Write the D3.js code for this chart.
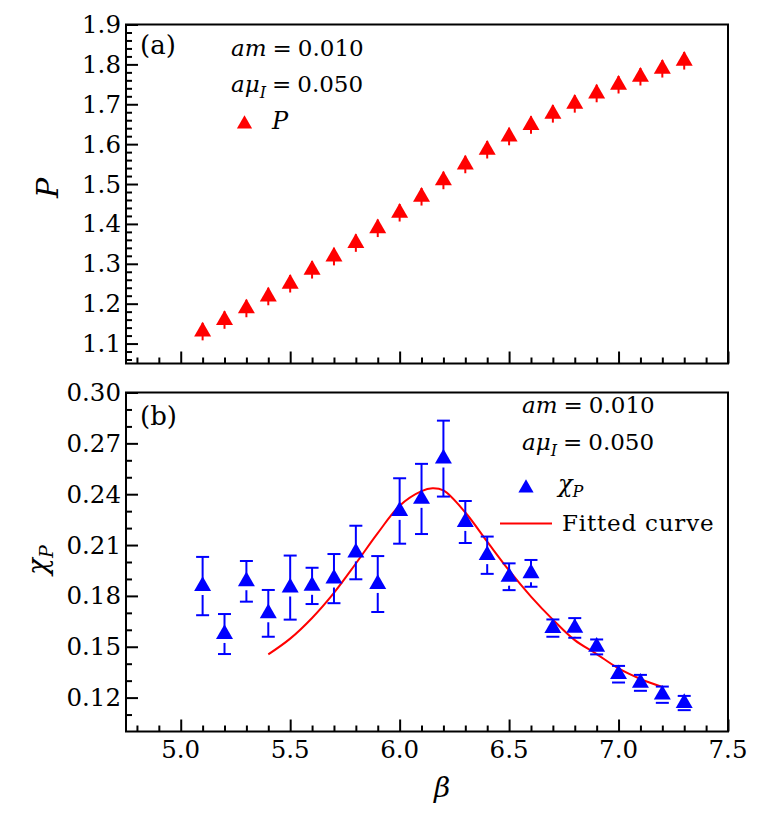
<!DOCTYPE html>
<html>
<head>
<meta charset="utf-8">
<script src="https://cdn.jsdelivr.net/npm/d3@7"></script>
<style>
  html, body { margin: 0; padding: 0; background: #fff; }
  svg { display: block; }
  text { font-family: "DejaVu Serif", serif; fill: #000; }
</style>
</head>
<body>
<svg id="chart" width="759" height="813"></svg>
<script>
// ---------- data ----------
const beta = [5.1, 5.2, 5.3, 5.4, 5.5, 5.6, 5.7, 5.8, 5.9, 6.0, 6.1, 6.2, 6.3, 6.4, 6.5, 6.6, 6.7, 6.8, 6.9, 7.0, 7.1, 7.2, 7.3];
const pValues = [1.130, 1.159, 1.188, 1.218, 1.250, 1.285, 1.318, 1.352, 1.389, 1.428, 1.468, 1.509, 1.549, 1.586, 1.619, 1.648, 1.676, 1.701, 1.727, 1.749, 1.769, 1.789, 1.809];
const pErrors = [0.022, 0.022, 0.022, 0.022, 0.022, 0.022, 0.022, 0.022, 0.022, 0.022, 0.022, 0.022, 0.022, 0.022, 0.022, 0.022, 0.022, 0.022, 0.022, 0.022, 0.022, 0.022, 0.022];
const chiValues = [0.1858, 0.1575, 0.1886, 0.1697, 0.1849, 0.1859, 0.1902, 0.2056, 0.1870, 0.2301, 0.2372, 0.2610, 0.2236, 0.2040, 0.1913, 0.1933, 0.1610, 0.1611, 0.1499, 0.1338, 0.1287, 0.1217, 0.1168];
const chiErrors = [0.0172, 0.0118, 0.0120, 0.0138, 0.0189, 0.0107, 0.0145, 0.0158, 0.0165, 0.0193, 0.0207, 0.0224, 0.0124, 0.0110, 0.0079, 0.0079, 0.0051, 0.0058, 0.0044, 0.0049, 0.0047, 0.0048, 0.0042];
const fitBeta = [5.40, 5.50, 5.60, 5.70, 5.80, 5.90, 6.00, 6.10, 6.15, 6.20, 6.30, 6.40, 6.50, 6.60, 6.70, 6.80, 6.90, 7.00, 7.10, 7.20];
const fitChi  = [0.1455, 0.1548, 0.1670, 0.1818, 0.1991, 0.2170, 0.2332, 0.2418, 0.2435, 0.2422, 0.2292, 0.2120, 0.1950, 0.1796, 0.1660, 0.1539, 0.1457, 0.1372, 0.1310, 0.1263];
const xMajorTicks = [5.0, 5.5, 6.0, 6.5, 7.0, 7.5];
const xTickLabels = ["5.0", "5.5", "6.0", "6.5", "7.0", "7.5"];
const pMajorTicks = [1.1, 1.2, 1.3, 1.4, 1.5, 1.6, 1.7, 1.8, 1.9];
const pTickLabels = ["1.1", "1.2", "1.3", "1.4", "1.5", "1.6", "1.7", "1.8", "1.9"];
const chiMajorTicks = [0.12, 0.15, 0.18, 0.21, 0.24, 0.27, 0.30];
const chiTickLabels = ["0.12", "0.15", "0.18", "0.21", "0.24", "0.27", "0.30"];

// ---------- layout ----------
const svg = d3.select("#chart");
const L = 126, R = 728;
const topA = 24.5, botA = 363.5;
const topB = 392.5, botB = 731.5;
const RED = "#ff0000", BLUE = "#0000ff";
const MAJ = 12, MIN = 6;

const x = d3.scaleLinear().domain([4.75, 7.5]).range([L, R]);
const yA = d3.scaleLinear().domain([1.05, 1.9]).range([botA, topA]);
const yB = d3.scaleLinear().domain([0.10, 0.30]).range([botB, topB]);

function range(a, b, s) { const out = []; for (let v = a; v <= b + 1e-9; v += s) out.push(+v.toFixed(4)); return out; }
const xMinor = range(4.8, 7.4, 0.1).filter(v => !xMajorTicks.some(m => Math.abs(m - v) < 1e-6));
const pMinor = range(1.06, 1.88, 0.02).filter(v => !pMajorTicks.some(m => Math.abs(m - v) < 1e-6));
const chiMinor = range(0.11, 0.29, 0.01).filter(v => !chiMajorTicks.some(m => Math.abs(m - v) < 1e-6));

function drawFrame(y, yTop, yBot, yMajor, yMinor, yLabels, showXLabels) {
  const g = svg.append("g");
  const xAxMaj = d3.axisTop(x).tickValues(xMajorTicks).tickSize(MAJ).tickFormat("");
  const xAxMin = d3.axisTop(x).tickValues(xMinor).tickSize(MIN).tickFormat("");
  [xAxMaj, xAxMin].forEach(ax => {
    const a = g.append("g").attr("transform", `translate(0,${yBot})`).call(ax);
    a.select(".domain").remove();
    a.selectAll("line").attr("stroke", "#000").attr("stroke-width", 2);
  });
  const yAxMaj = d3.axisRight(y).tickValues(yMajor).tickSize(MAJ).tickFormat("");
  const yAxMin = d3.axisRight(y).tickValues(yMinor).tickSize(MIN).tickFormat("");
  [yAxMaj, yAxMin].forEach(ax => {
    const a = g.append("g").attr("transform", `translate(${L},0)`).call(ax);
    a.select(".domain").remove();
    a.selectAll("line").attr("stroke", "#000").attr("stroke-width", 2);
  });
  g.selectAll(".ylab").data(yMajor).enter().append("text")
    .attr("x", L - 5).attr("y", d => y(d) + 8.5)
    .attr("text-anchor", "end").attr("font-size", 24.5)
    .text((d, i) => yLabels[i]);
  if (showXLabels) {
    g.selectAll(".xlab").data(xMajorTicks).enter().append("text")
      .attr("x", d => x(d)).attr("y", yBot + 26)
      .attr("text-anchor", "middle").attr("font-size", 24.5)
      .text((d, i) => xTickLabels[i]);
  }
  g.append("rect").attr("x", L).attr("y", yTop).attr("width", R - L).attr("height", yBot - yTop)
    .attr("fill", "none").attr("stroke", "#000").attr("stroke-width", 2);
}

drawFrame(yA, topA, botA, pMajorTicks, pMinor, pTickLabels, false);
drawFrame(yB, topB, botB, chiMajorTicks, chiMinor, chiTickLabels, true);

const TRI = 125;
const triPath = d3.symbol().type(d3.symbolTriangle).size(TRI)();
const triSmall = d3.symbol().type(d3.symbolTriangle).size(100)();
const triSide = Math.sqrt(TRI * 4 / Math.sqrt(3));
const triH = triSide * Math.sqrt(3) / 2;

// ---------- panel (a) ----------
const gA = svg.append("g");
gA.selectAll(".eb").data(beta).enter().append("line")
  .attr("x1", d => x(d)).attr("x2", d => x(d))
  .attr("y1", (d, i) => yA(pValues[i] + pErrors[i]))
  .attr("y2", (d, i) => yA(pValues[i] - pErrors[i]))
  .attr("stroke", RED).attr("stroke-width", 2);
gA.selectAll(".pt").data(beta).enter().append("path")
  .attr("d", triPath)
  .attr("transform", (d, i) => `translate(${x(d)},${yA(pValues[i])})`)
  .attr("fill", RED);

// ---------- panel (b) ----------
const gB = svg.append("g");
const capW = 13;
const lineGen = d3.line().x(d => x(d[0])).y(d => yB(d[1])).curve(d3.curveCatmullRom.alpha(0.5));
gB.append("path").datum(fitBeta.map((b, i) => [b, fitChi[i]]))
  .attr("d", lineGen).attr("fill", "none").attr("stroke", RED).attr("stroke-width", 2);

beta.forEach((b, i) => {
  const cx = x(b), cy = yB(chiValues[i]);
  const yt = yB(chiValues[i] + chiErrors[i]);
  const yb = yB(chiValues[i] - chiErrors[i]);
  const baseGap = cy + triH / 3 + 4;
  gB.append("line").attr("x1", cx).attr("x2", cx).attr("y1", yt).attr("y2", cy)
    .attr("stroke", BLUE).attr("stroke-width", 2);
  if (yb > baseGap) {
    gB.append("line").attr("x1", cx).attr("x2", cx).attr("y1", baseGap).attr("y2", yb)
      .attr("stroke", BLUE).attr("stroke-width", 2);
  }
  gB.append("line").attr("x1", cx - capW / 2).attr("x2", cx + capW / 2).attr("y1", yt).attr("y2", yt)
    .attr("stroke", BLUE).attr("stroke-width", 2);
  gB.append("line").attr("x1", cx - capW / 2).attr("x2", cx + capW / 2).attr("y1", yb).attr("y2", yb)
    .attr("stroke", BLUE).attr("stroke-width", 2);
  gB.append("path").attr("d", triPath).attr("transform", `translate(${cx},${cy})`).attr("fill", BLUE);
});

// ---------- annotations ----------
function params(g, x0, yb1, yb2) {
  const t1 = g.append("text").attr("x", x0).attr("y", yb1).attr("font-size", 23);
  t1.append("tspan").attr("font-style", "italic").text("am");
  t1.append("tspan").attr("dx", 6).text("=");
  t1.append("tspan").attr("dx", 6).text("0.010");
  const t2 = g.append("text").attr("x", x0).attr("y", yb2).attr("font-size", 23);
  t2.append("tspan").attr("font-style", "italic").text("aμ");
  t2.append("tspan").attr("font-style", "italic").attr("font-size", 16).attr("dy", 6).text("I");
  t2.append("tspan").attr("dx", 6).attr("dy", -6).text("=");
  t2.append("tspan").attr("dx", 6).text("0.050");
}
const ann = svg.append("g");
ann.append("text").attr("x", 140).attr("y", 54).attr("font-size", 26).text("(a)");
ann.append("text").attr("x", 140).attr("y", 424.5).attr("font-size", 26).text("(b)");
params(ann, 231, 55.5, 91.5);
params(ann, 522, 413, 450);

// legend (a)
ann.append("path").attr("d", triSmall).attr("transform", "translate(244.5,124)").attr("fill", RED);
ann.append("text").attr("x", 272).attr("y", 128.5).attr("font-size", 24).attr("font-style", "italic").text("P");

// legend (b)
ann.append("path").attr("d", triSmall).attr("transform", "translate(526,488)").attr("fill", BLUE);
const chiLeg = ann.append("text").attr("x", 558).attr("y", 492).attr("font-size", 24);
chiLeg.append("tspan").attr("font-style", "italic").text("χ");
chiLeg.append("tspan").attr("font-style", "italic").attr("font-size", 16).attr("dy", 5).text("P");
ann.append("line").attr("x1", 500).attr("x2", 552).attr("y1", 523.5).attr("y2", 523.5)
  .attr("stroke", RED).attr("stroke-width", 2);
ann.append("text").attr("x", 562).attr("y", 530.5).attr("font-size", 23).attr("letter-spacing", 0.8).text("Fitted curve");

// axis titles
ann.append("text").attr("transform", "translate(58,188) rotate(-90)")
  .attr("text-anchor", "middle").attr("font-size", 30).attr("font-style", "italic").text("P");
const chiT = ann.append("text").attr("transform", "translate(47,560) rotate(-90)")
  .attr("text-anchor", "middle").attr("font-size", 28);
chiT.append("tspan").attr("font-style", "italic").text("χ");
chiT.append("tspan").attr("font-style", "italic").attr("font-size", 19).attr("dy", 6).text("P");
ann.append("text").attr("x", 442).attr("y", 797).attr("text-anchor", "middle")
  .attr("font-size", 28).attr("font-style", "italic").text("β");
</script>
</body>
</html>
